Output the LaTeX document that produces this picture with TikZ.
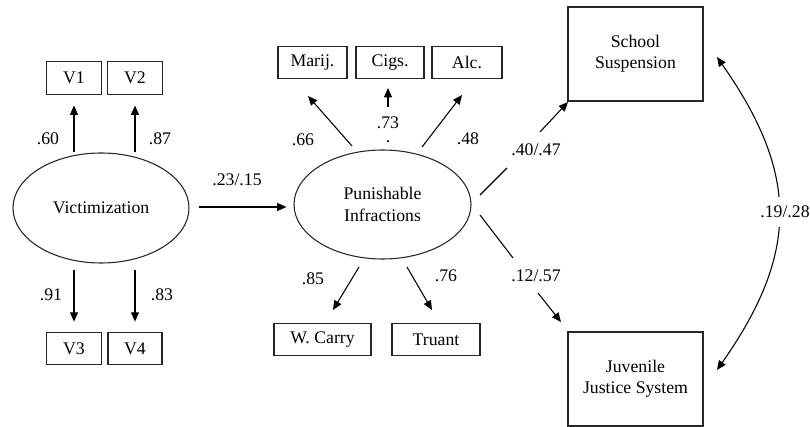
\documentclass[tikz,border=0pt]{standalone}
\usepackage{fontspec}
\setmainfont{Liberation Serif}
\usetikzlibrary{shapes.geometric,arrows.meta}
\begin{document}
\begin{tikzpicture}[x=0.75pt,y=-0.75pt,
  every node/.style={font=\fontsize{13.3}{16}\selectfont},
  box/.style={draw=black!85, line width=0.8pt, minimum height=24.5pt, inner sep=0pt},
  latent/.style={ellipse, draw=black!85, line width=0.8pt, inner sep=0pt},
  tip/.style={-{Triangle[length=7pt,width=6pt]}},
  arr/.style={line width=0.8pt, tip},
  ln/.style={line width=0.8pt},
  lbl/.style={inner sep=1pt}]
\useasboundingbox (0,0) rectangle (810,427);

% latent variables
\node[latent, minimum width=132pt, minimum height=82.5pt] (victim) at (101,208) {Victimization};
\node[latent, minimum width=132.75pt, minimum height=81.75pt, align=center] (punish) at (382.5,204.5) {Punishable\\Infractions};

% indicators
\node[box, minimum width=41.25pt] (v1) at (74,78) {V1};
\node[box, minimum width=41.25pt] (v2) at (135,78) {V2};
\node[box, minimum width=41.25pt] (v3) at (74,348.5) {V3};
\node[box, minimum width=40.5pt] (v4) at (135,348.5) {V4};
\node[box, minimum width=51.75pt] (marij) at (312.5,62.5) {Marij.};
\node[box, minimum width=51pt] (cigs) at (390,62.5) {Cigs.};
\node[box, minimum width=52.5pt] (alc) at (467,62.5) {Alc.};
\node[box, minimum width=72.75pt] (wcarry) at (322.5,339.5) {W. Carry};
\node[box, minimum width=66pt] (truant) at (436,339.5) {Truant};

% outcomes
\node[box, minimum width=101.25pt, minimum height=70.5pt, align=center] (school) at (635.5,54) {School\\Suspension};
\node[box, minimum width=101.25pt, minimum height=70.5pt, align=center] (juv) at (635.5,379) {Juvenile\\Justice System};

% Victimization loadings
\draw[arr, shorten >=8pt] (v1 |- victim.north) -- (v1.south);
\draw[arr, shorten >=8pt] (v2 |- victim.north) -- (v2.south);
\draw[arr, shorten <=4.5pt, shorten >=7.5pt] (v3 |- victim.south) -- (v3.north);
\draw[arr, shorten <=4.5pt, shorten >=7.5pt] (v4 |- victim.south) -- (v4.north);
\node[lbl] (l60) at (48,139) {.60};
\node[lbl] (l87) at (160,139) {.87};
\node[lbl] (l91) at (51,295) {.91};
\node[lbl] (l83) at (162,295) {.83};

% structural path
\draw[arr, shorten <=6.75pt, shorten >=5.25pt] (victim.east |- 0,207) -- (punish.west |- 0,207);
\node[lbl] (l23) at (237,180) {.23/.15};

% Punishable loadings
\coordinate (pm0) at (352,146); \coordinate (pm1) at (308,96);
\coordinate (pc0) at (388,107); \coordinate (pc1) at (388,88);
\coordinate (pa0) at (422,147); \coordinate (pa1) at (462,95);
\coordinate (pw0) at (359,267); \coordinate (pw1) at (333,310);
\coordinate (pt0) at (407,267); \coordinate (pt1) at (432,310);
\draw[arr] (pm0) -- (pm1);
\draw[arr] (pc0) -- (pc1);
\draw[arr] (pa0) -- (pa1);
\draw[arr] (pw0) -- (pw1);
\draw[arr] (pt0) -- (pt1);
\node[lbl] (l66) at (303,140) {.66};
\node[inner sep=0pt, text height=8.5pt, text depth=0pt] (l73) at (388,123) {.73};
\node[inner sep=0pt, text height=1.2pt, text depth=0pt, anchor=base] (ldot) at (388,143) {.};
\node[lbl] (l48) at (468,139) {.48};
\node[lbl] (l85) at (313,279) {.85};
\node[lbl] (l76) at (446,276) {.76};

% paths to outcomes
\coordinate (ps0) at (480,195); \coordinate (ps1) at (507,168);
\coordinate (ps2) at (540,132); \coordinate (ps3) at (568,102);
\draw[ln] (ps0) -- (ps1);
\draw[arr] (ps2) -- (ps3);
\node[lbl] (l40) at (536,150) {.40/.47};
\coordinate (pj0) at (480,215); \coordinate (pj1) at (513,258);
\coordinate (pj2) at (538,293); \coordinate (pj3) at (561,322);
\draw[ln] (pj0) -- (pj1);
\draw[arr] (pj2) -- (pj3);
\node[lbl] (l12) at (536,276) {.12/.57};

% correlation
\coordinate (cu0) at (717,57); \coordinate (cu1) at (717,370);
\draw[ln, {Triangle[length=7pt,width=6pt]}-{Triangle[length=7pt,width=6pt]}] (cu0) .. controls (799,174) and (799,253) .. (cu1);
\node[lbl, fill=white, minimum height=22.5pt] (l19) at (785,212) {.19/.28};
\end{tikzpicture}
\end{document}
